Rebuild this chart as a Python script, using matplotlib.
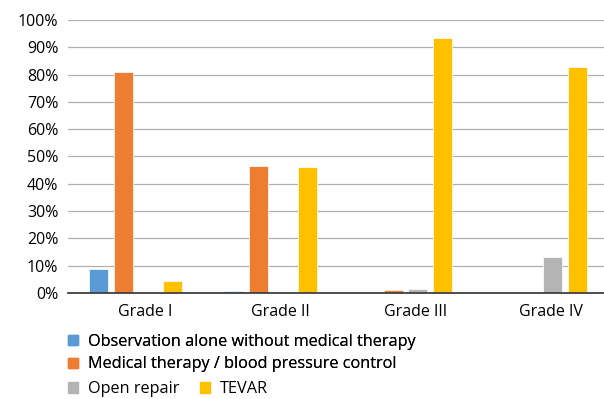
import matplotlib
matplotlib.use('Agg')
import matplotlib.pyplot as plt
import numpy as np
from matplotlib import ticker
from matplotlib.patches import Patch
from matplotlib.transforms import ScaledTranslation

plt.rcParams['font.family'] = ['Open Sans', 'DejaVu Sans']

grades = ['Grade I', 'Grade II', 'Grade III', 'Grade IV']
observation = [8.8, 0.6, 0.0, 0.0]
medical = [81.0, 46.5, 1.1, 0.0]
open_repair = [0.4, 0.0, 1.4, 13.0]
tevar = [4.4, 46.0, 93.4, 82.8]

series = [
    ('Observation alone without medical therapy', observation, '#5b9bd5'),
    ('Medical therapy / blood pressure control', medical, '#ed7d31'),
    ('Open repair', open_repair, '#b4b4b4'),
    ('TEVAR', tevar, '#ffc000'),
]

fig = plt.figure(figsize=(6.04, 3.99), dpi=100)
ax = fig.add_axes([0.1126, 0.2657, 0.894, 0.6842])

x = np.arange(len(grades))
step = 0.181
width = 0.142
for k, (name, vals, col) in enumerate(series):
    ax.bar(x + (k - 1.5) * step, np.array(vals) / 100, width, color=col,
           edgecolor='white', linewidth=0.5, zorder=3)

ax.set_xlim(-0.5, 3.5)
ax.set_ylim(0, 1.0)
ax.yaxis.set_major_locator(ticker.MultipleLocator(0.1))
ax.yaxis.set_major_formatter(ticker.PercentFormatter(1.0, decimals=0))
ax.set_xticks(x)
ax.set_xticklabels(grades)
ax.grid(axis='y', color='#b0b0b0', linewidth=0.9, zorder=0)
ax.tick_params(axis='both', length=0, labelsize=11.5, colors='#000000')
ax.tick_params(axis='y', pad=7)
ax.tick_params(axis='x', pad=8)
# category labels sit a little right of the bar groups in the original
shift = ScaledTranslation(0.1, 0, fig.dpi_scale_trans)
for t in ax.get_xticklabels():
    t.set_transform(t.get_transform() + shift)
for s in ['top', 'right', 'left']:
    ax.spines[s].set_visible(False)
ax.spines['bottom'].set_color('#404040')
ax.spines['bottom'].set_linewidth(1.3)
ax.spines['bottom'].set_zorder(4)

h = [Patch(color=c) for _, _, c in series]
lab = [n for n, _, _ in series]
fs = 11.7
leg1 = fig.legend(h[:2], lab[:2], loc='center left', bbox_to_anchor=(0.1126, 0.1153),
                  frameon=False, fontsize=fs, handlelength=0.62, handleheight=0.62,
                  handletextpad=0.62, labelspacing=0.43, borderaxespad=0, borderpad=0)
leg2 = fig.legend(h[2:], lab[2:], loc='center left', bbox_to_anchor=(0.1126, 0.025),
                  frameon=False, fontsize=fs, handlelength=0.62, handleheight=0.62,
                  handletextpad=0.62, columnspacing=1.23, ncol=2, borderaxespad=0,
                  borderpad=0)
fig.add_artist(leg1)

fig.savefig('out.png', dpi=100)
